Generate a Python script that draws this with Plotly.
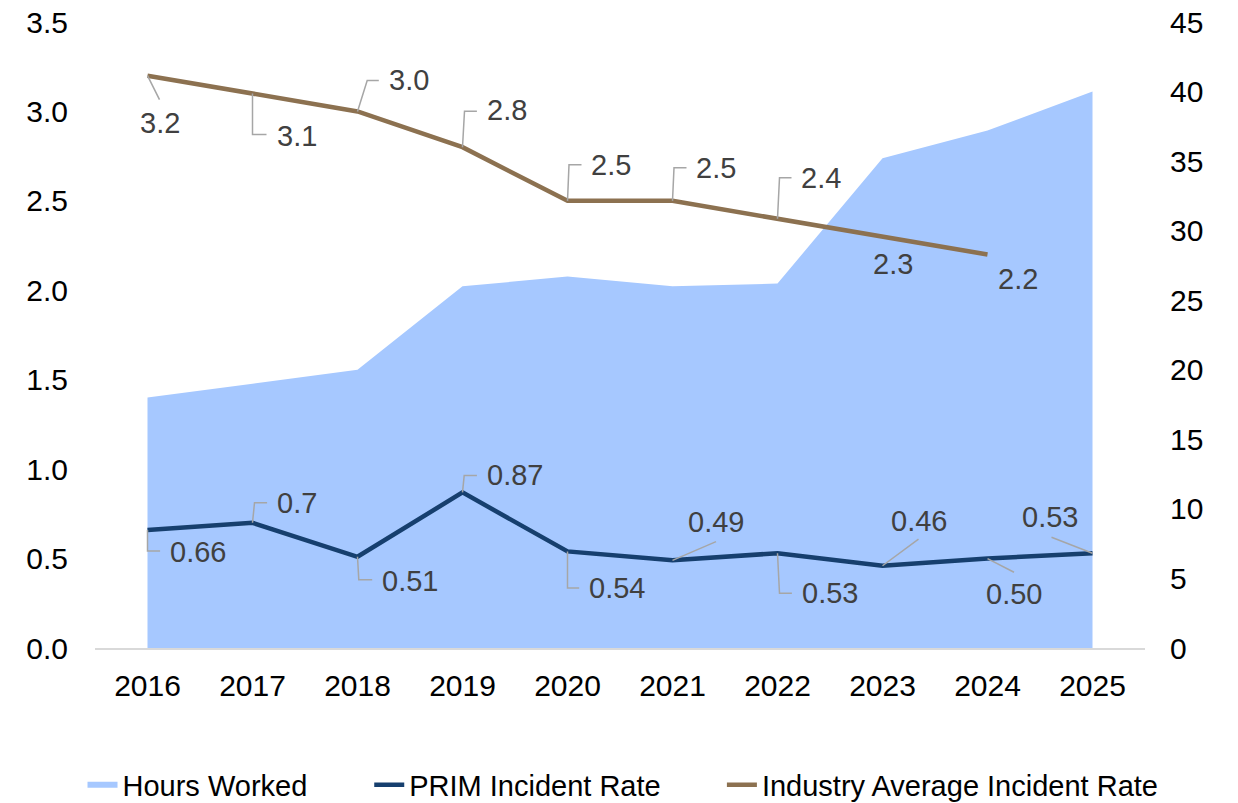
import plotly.graph_objects as go

# ---------------- data ----------------
years = [2016, 2017, 2018, 2019, 2020, 2021, 2022, 2023, 2024, 2025]
hours_worked = [18.0, 19.0, 20.0, 26.0, 26.7, 26.0, 26.2, 35.2, 37.2, 40.0]
prim_rate = [0.66, 0.70, 0.51, 0.87, 0.54, 0.49, 0.53, 0.46, 0.50, 0.53]
prim_labels = ["0.66", "0.7", "0.51", "0.87", "0.54", "0.49", "0.53", "0.46", "0.50", "0.53"]
industry_years = [2016, 2017, 2018, 2019, 2020, 2021, 2022, 2023, 2024]
industry_rate = [3.2, 3.1, 3.0, 2.8, 2.5, 2.5, 2.4, 2.3, 2.2]
industry_labels = ["3.2", "3.1", "3.0", "2.8", "2.5", "2.5", "2.4", "2.3", "2.2"]
left_ticks = [0, 0.5, 1.0, 1.5, 2.0, 2.5, 3.0, 3.5]
right_ticks = [0, 5, 10, 15, 20, 25, 30, 35, 40, 45]

# ---------------- styles ----------------
AREA_COLOR = "#A6C8FF"
PRIM_COLOR = "#163F6E"
IND_COLOR = "#8C7150"
LEADER_COLOR = "#A6A6A6"
LABEL_COLOR = "#404040"
FONT = "Liberation Sans, Arial, sans-serif"

W, H = 1238, 803
M_L, M_R, M_T, M_B = 94.5, 92.5, 22, 155
PLOT_W = W - M_L - M_R
PLOT_H = H - M_T - M_B

# label placement (pixel offsets relative to point, screen coords: +y down)
IND_POS = [
    ("center", 12.5, 47, [(12, 24)]),
    ("left", 23, 42, [(0, 41), (14, 41)]),
    ("left", 30, -31, [(9.7, -31), (21.3, -31)]),
    ("left", 23, -37, [(2, -36), (14.4, -36)]),
    ("left", 22.5, -36, [(1.5, -36), (14, -36)]),
    ("left", 22.4, -33, [(1.5, -33), (14, -33)]),
    ("left", 22.3, -41, [(2, -41), (14, -41)]),
    ("center", 10, 27, None),
    ("center", 30, 24, None),
]
PRIM_POS = [
    ("left", 21, 22, [(0, 21), (12.6, 21)]),
    ("left", 23, -20, [(2, -20), (14.6, -20)]),
    ("left", 23, 24, [(1.3, 23), (14.7, 23)]),
    ("left", 23, -17, [(1.7, -17), (14.4, -17)]),
    ("left", 20, 37, [(0, 36.7), (11.7, 36.7)]),
    ("center", 43.5, -38, [(43.5, -18.7)]),
    ("left", 23, 40, [(2, 40), (14.4, 40)]),
    ("center", 36, -45, [(36, -26.7)]),
    ("center", 26.5, 35, [(26.5, 13.7)]),
    ("center", -43, -36.5, [(-41, -16)]),
]

# legend text start positions (pixels) and vertical centre
LEGEND_TEXT_X = [123, 410, 763]
LEGEND_Y_PX = 785
LEGEND_TEXT_OFFSET = 41

fig = go.Figure()

legend_ids = ["legend", "legend2", "legend3"]

fig.add_trace(go.Scatter(
    x=years, y=hours_worked, name="Hours Worked", mode="none",
    fill="tozeroy", fillcolor=AREA_COLOR, yaxis="y", hoverinfo="skip",
    legend=legend_ids[0],
))
fig.add_trace(go.Scatter(
    x=years, y=prim_rate, name="PRIM Incident Rate", mode="lines",
    line=dict(color=PRIM_COLOR, width=4.5), yaxis="y2", legend=legend_ids[1],
))
fig.add_trace(go.Scatter(
    x=industry_years, y=industry_rate, name="Industry Average Incident Rate",
    mode="lines", line=dict(color=IND_COLOR, width=4.5), yaxis="y2",
    legend=legend_ids[2],
))

annotations = []
shapes = []


def add_labels(xs, ys, texts, positions):
    for x, y, t, (anchor, dx, dy, leader) in zip(xs, ys, texts, positions):
        annotations.append(dict(
            x=x, y=y, xref="x", yref="y2", text=t, showarrow=False,
            xanchor=anchor, yanchor="middle", xshift=dx, yshift=-dy,
            borderpad=0, font=dict(family=FONT, size=29, color=LABEL_COLOR),
        ))
        if leader:
            path = "M0,0 " + " ".join(f"L{px},{-py}" for px, py in leader)
            shapes.append(dict(
                type="path", xref="x", yref="y2",
                xsizemode="pixel", ysizemode="pixel",
                xanchor=x, yanchor=y, path=path,
                line=dict(color=LEADER_COLOR, width=1.5),
                layer="above",
            ))


add_labels(industry_years, industry_rate, industry_labels, IND_POS)
add_labels(years, prim_rate, prim_labels, PRIM_POS)

legend_layout = {}
for lid, tx in zip(legend_ids, LEGEND_TEXT_X):
    legend_layout[lid] = dict(
        x=(tx - LEGEND_TEXT_OFFSET - M_L) / PLOT_W, xanchor="left",
        y=(M_T + PLOT_H - LEGEND_Y_PX) / PLOT_H, yanchor="middle",
        orientation="h", bgcolor="rgba(0,0,0,0)",
        font=dict(family=FONT, size=29, color="#000000"),
    )

fig.update_layout(
    width=W, height=H,
    margin=dict(l=M_L, r=M_R, t=M_T, b=M_B, autoexpand=False),
    paper_bgcolor="white", plot_bgcolor="white",
    font=dict(family=FONT, size=29, color="#000000"),
    showlegend=True,
    xaxis=dict(
        range=[2015.5, 2025.5], tickvals=years, ticktext=[str(y) for y in years],
        showgrid=False, zeroline=False, showline=True, linecolor="#D9D9D9",
        linewidth=1.5, ticks="", tickfont=dict(size=30, color="#000000"),
        ticklabelstandoff=10, automargin=False,
    ),
    yaxis=dict(
        range=[0, 45], tickvals=right_ticks, side="right",
        showgrid=False, zeroline=False, showline=False, ticks="",
        tickfont=dict(size=30, color="#000000"), ticklabelstandoff=24,
        automargin=False,
    ),
    yaxis2=dict(
        range=[0, 3.5], tickvals=left_ticks, tickformat=".1f",
        overlaying="y", side="left",
        showgrid=False, zeroline=False, showline=False, ticks="",
        tickfont=dict(size=30, color="#000000"), ticklabelstandoff=26,
        automargin=False,
    ),
    annotations=annotations,
    shapes=shapes,
    **legend_layout,
)

fig.write_html(
    "out.html",
    config={"responsive": False, "displayModeBar": False},
    post_script="document.body.style.margin='0';document.body.style.overflow='hidden';",
)
